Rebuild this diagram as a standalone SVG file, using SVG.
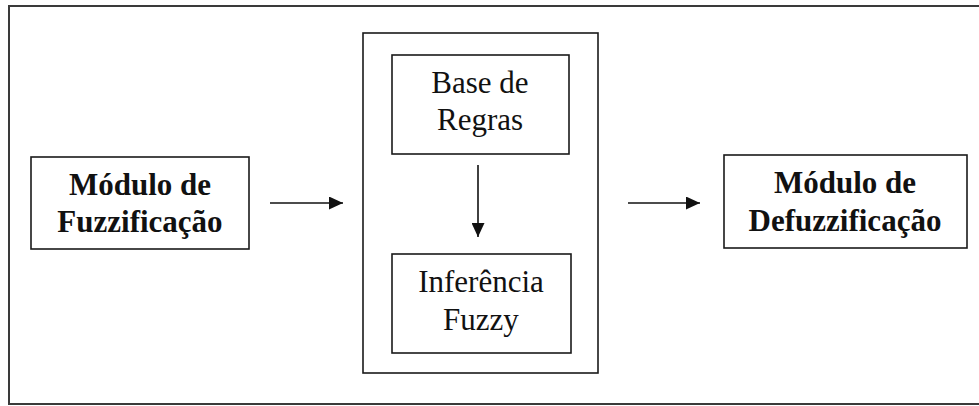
<svg xmlns="http://www.w3.org/2000/svg" width="979" height="406" viewBox="0 0 979 406">
  <style>
    .frame { fill: none; stroke: #3a3a3a; stroke-width: 2; }
    .box { fill: #ffffff; stroke: #1a1a1a; stroke-width: 1.6; }
    .wire { fill: none; stroke: #111111; stroke-width: 1.6; }
    .bold { font-family: "Liberation Serif", "Times New Roman", serif; font-weight: bold; font-size: 31px; fill: #111111; text-anchor: middle; }
    .reg { font-family: "Liberation Serif", "Times New Roman", serif; font-size: 31px; fill: #111111; text-anchor: middle; }
  </style>
  <defs>
    <marker id="arrow" viewBox="0 0 10 10" refX="10" refY="5" markerWidth="9" markerHeight="9" markerUnits="userSpaceOnUse" orient="auto">
      <path d="M0,0 L10,5 L0,10 Z" fill="#111111"/>
    </marker>
    <marker id="arrowL" viewBox="0 0 10 10" refX="10" refY="5" markerWidth="14" markerHeight="13" markerUnits="userSpaceOnUse" orient="auto" preserveAspectRatio="none">
      <path d="M0,0 L10,5 L0,10 Z" fill="#111111"/>
    </marker>
  </defs>

  <rect width="979" height="406" fill="#ffffff"/>
  <rect class="frame" x="9" y="6" width="990" height="398"/>

  <g id="fuzzificacao">
    <rect class="box" x="31" y="157" width="218" height="92"/>
    <text class="bold" x="140" y="195">Módulo de</text>
    <text class="bold" x="140" y="232">Fuzzificação</text>
  </g>

  <g id="nucleo">
    <rect class="box" x="363" y="33" width="235" height="340"/>
  </g>

  <g id="base-regras">
    <rect class="box" x="392" y="55" width="177" height="99"/>
    <text class="reg" x="480" y="93">Base de</text>
    <text class="reg" x="480" y="130">Regras</text>
  </g>

  <g id="inferencia">
    <rect class="box" x="392" y="254" width="179" height="99"/>
    <text class="reg" x="481" y="292">Inferência</text>
    <text class="reg" x="481" y="330">Fuzzy</text>
  </g>

  <g id="defuzzificacao">
    <rect class="box" x="724" y="155" width="243" height="93"/>
    <text class="bold" x="845" y="193">Módulo de</text>
    <text class="bold" x="845" y="231">Defuzzificação</text>
  </g>

  <g id="connectors">
    <line class="wire" x1="270" y1="203" x2="343" y2="203" marker-end="url(#arrowL)"/>
    <line class="wire" x1="478" y1="165" x2="478" y2="237" marker-end="url(#arrowL)"/>
    <line class="wire" x1="628" y1="203" x2="700" y2="203" marker-end="url(#arrowL)"/>
  </g>
</svg>
